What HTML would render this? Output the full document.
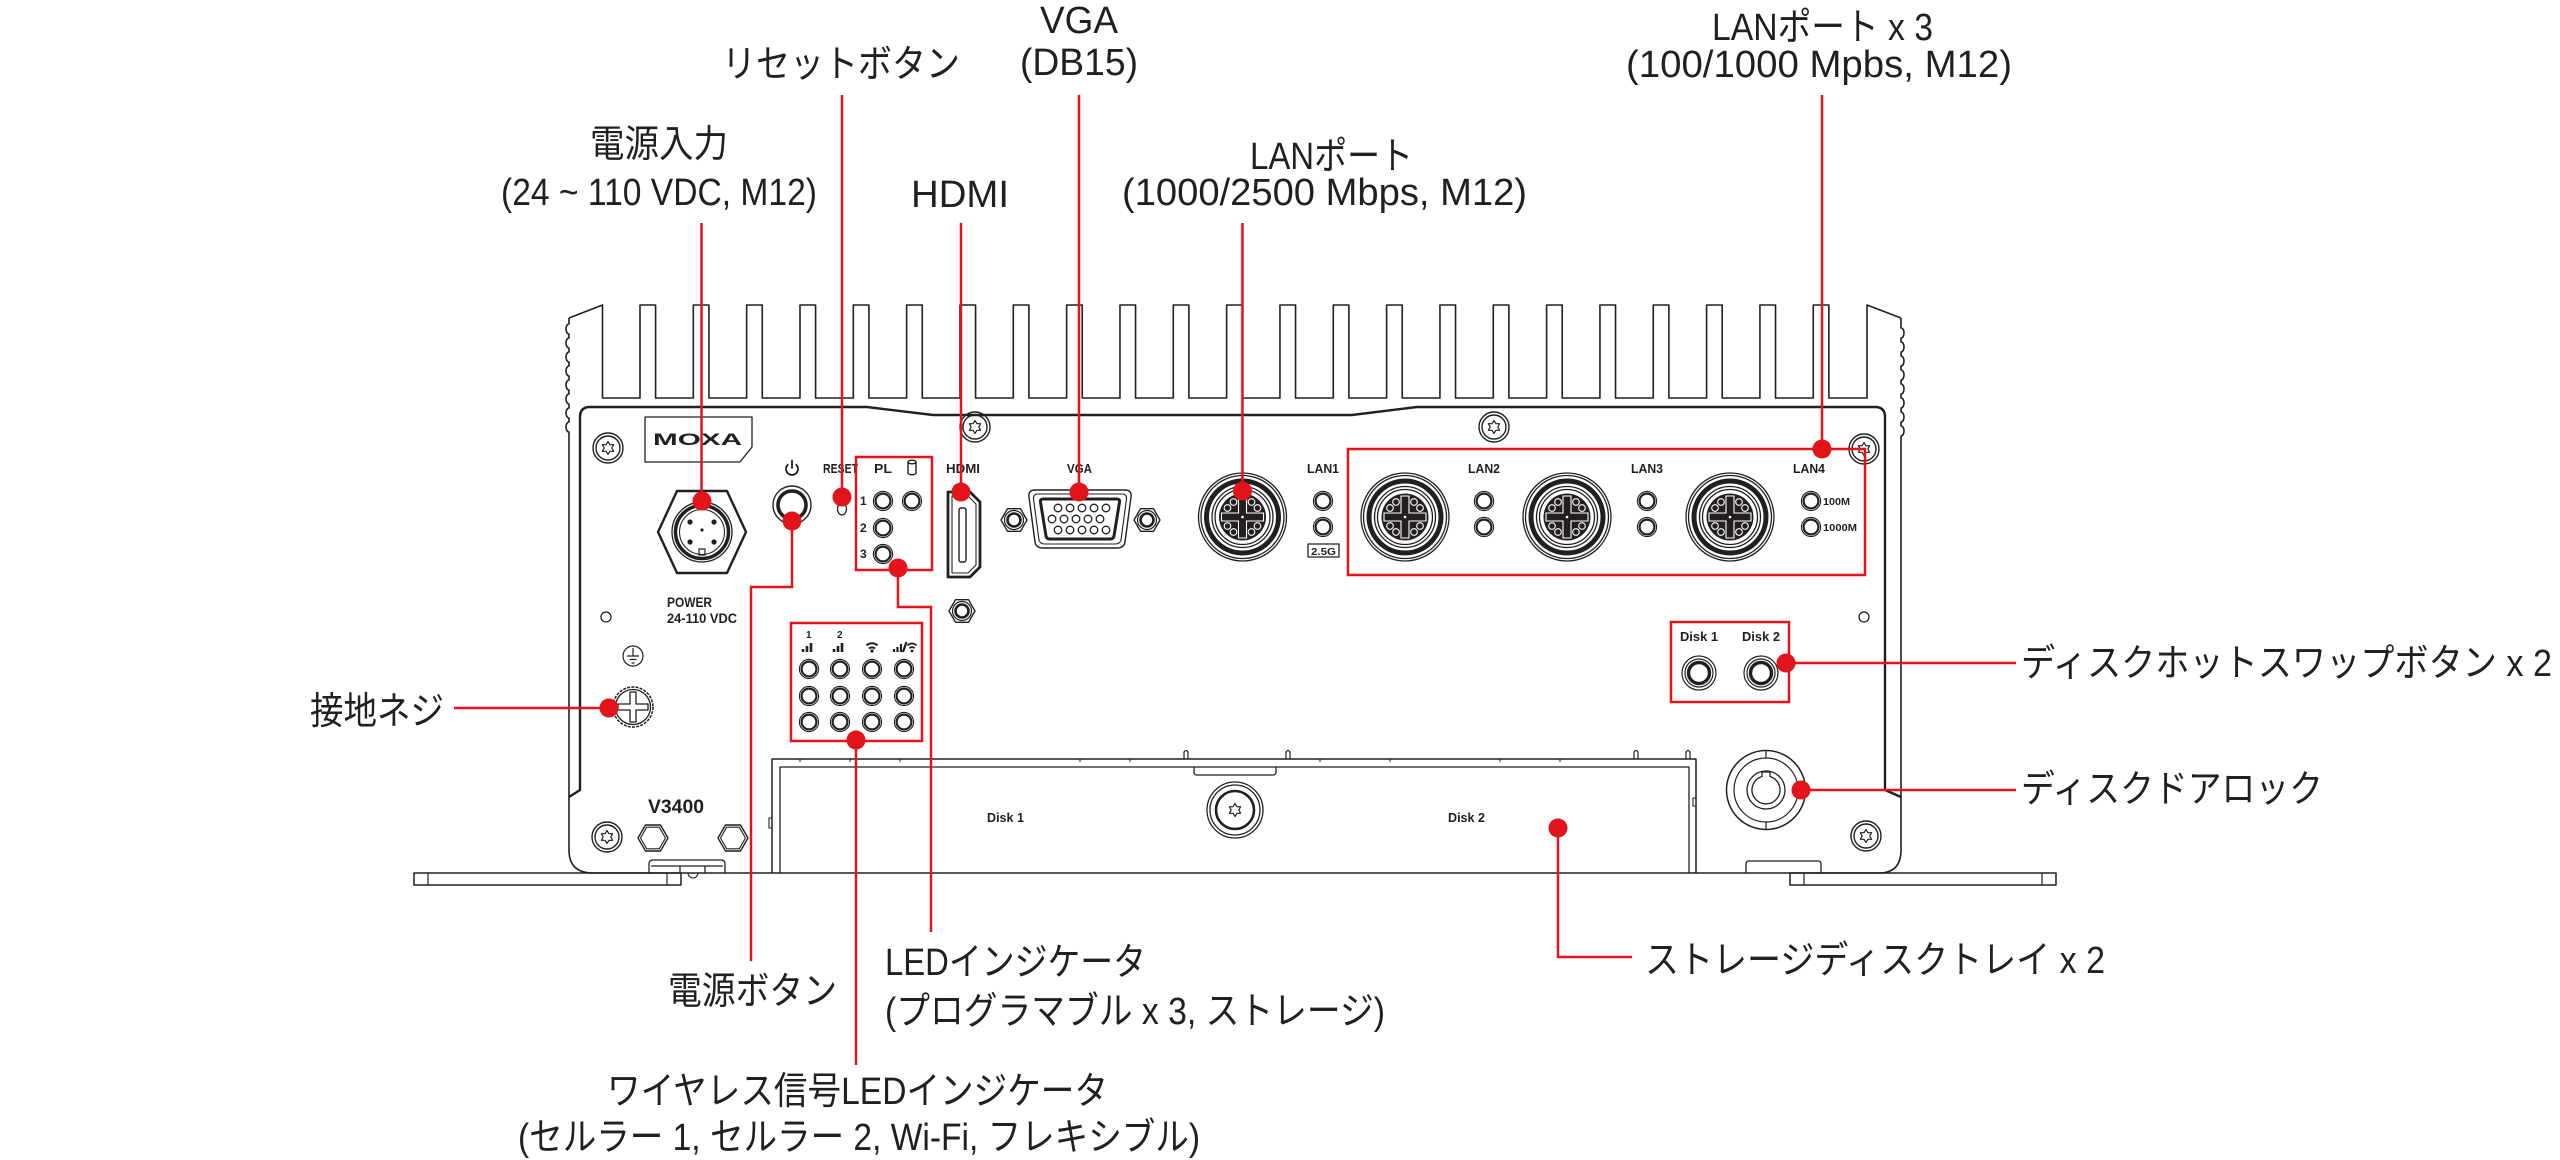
<!DOCTYPE html>
<html><head><meta charset="utf-8">
<style>html,body{margin:0;padding:0;background:#fff;}svg{display:block}</style>
</head><body>
<svg width="2560" height="1160" viewBox="0 0 2560 1160" xmlns="http://www.w3.org/2000/svg">
<defs>
<g id="torx" fill="none" stroke="#231f20">
<circle r="15" stroke-width="1.4"/><circle r="12" stroke-width="1.4"/>
<polygon stroke-width="1.2" stroke-linejoin="round" points="0,-6.5 1.9,-3.29 5.63,-3.25 3.8,0 5.63,3.25 1.9,3.29 0,6.5 -1.9,3.29 -5.63,3.25 -3.8,0 -5.63,-3.25 -1.9,-3.29"/>
</g>
<g id="led" fill="none" stroke="#231f20">
<circle r="9.6" stroke-width="1.1"/><circle r="7.4" stroke-width="2.2"/>
</g>
<g id="nut" fill="none" stroke="#231f20">
<polygon stroke-width="1.4" stroke-linejoin="round" points="13,0 6.5,11.3 -6.5,11.3 -13,0 -6.5,-11.3 6.5,-11.3"/>
<circle r="9.5" stroke-width="1.2"/><circle r="6.5" stroke-width="2.6"/>
</g>
<g id="nutv" fill="none" stroke="#231f20">
<polygon stroke-width="1.4" stroke-linejoin="round" points="15,0 7.5,13 -7.5,13 -15,0 -7.5,-13 7.5,-13"/>
<polygon stroke-width="1.1" stroke-linejoin="round" points="12.5,0 6.25,10.8 -6.25,10.8 -12.5,0 -6.25,-10.8 6.25,-10.8"/>
</g>
<g id="lan">
<circle r="44" fill="none" stroke="#231f20" stroke-width="1.3"/>
<circle r="41.5" fill="none" stroke="#231f20" stroke-width="1.3"/>
<circle r="36" fill="none" stroke="#231f20" stroke-width="5"/>
<circle r="30.5" fill="none" stroke="#231f20" stroke-width="1.3"/>
<circle r="27.5" fill="none" stroke="#231f20" stroke-width="1.3"/>
<circle r="23.5" fill="#231f20"/>
<path d="M-4 -21 V-4 H-21 V4 H-4 V21 H4 V4 H21 V-4 H4 V-21 Z" fill="none" stroke="#fff" stroke-width="1.1"/>
<g fill="#231f20" stroke="#fff" stroke-width="1.1">
<circle cx="-9" cy="-15" r="3.3"/><circle cx="9" cy="-15" r="3.3"/><circle cx="-15" cy="-9" r="3.3"/><circle cx="15" cy="-9" r="3.3"/>
<circle cx="-9" cy="15" r="3.3"/><circle cx="9" cy="15" r="3.3"/><circle cx="-15" cy="9" r="3.3"/><circle cx="15" cy="9" r="3.3"/>
</g>
<circle r="1.3" fill="#fff"/>
</g>
</defs>

<g fill="none" stroke="#231f20" stroke-width="1.6" stroke-linejoin="round">
<path d="M569 318 L602.5 305 V398 H640 V305h15.6V398h37.73V305h15.6V398h37.73V305h15.6V398h37.73V305h15.6V398h37.73V305h15.6V398h37.73V305h15.6V398h37.73V305h15.6V398h37.73V305h15.6V398h37.73V305h15.6V398h37.73V305h15.6V398h37.73V305h15.6V398h37.73V305h15.6V398h37.73V305h15.6V398h37.73V305h15.6V398h37.73V305h15.6V398h37.73V305h15.6V398h37.73V305h15.6V398h37.73V305h15.6V398h37.73V305h15.6V398h37.73V305h15.6V398h37.73V305h15.6V398h37.73V305h15.6V398h37.73V305h15.6V398H1867 V305 L1901 318"/>
<path d="M569 318 V324 a3 5 0 0 0 0 10 v4 a3 5 0 0 0 0 10 v4 a3 5 0 0 0 0 10 v4 a3 5 0 0 0 0 10 v4 a3 5 0 0 0 0 10 v4 a3 5 0 0 0 0 10 v4 a3 5 0 0 0 0 10 v4 a3 5 0 0 0 0 10 V850 Q569 873 593 873 H1879 Q1901 873 1901 850 V436 a3 5 0 0 0 0 -10 v-4 a3 5 0 0 0 0 -10 v-4 a3 5 0 0 0 0 -10 v-4 a3 5 0 0 0 0 -10 v-4 a3 5 0 0 0 0 -10 v-4 a3 5 0 0 0 0 -10 v-4 a3 5 0 0 0 0 -10 v-4 a3 5 0 0 0 0 -10 V318"/>
<path d="M569 797 L580 790 V417 Q580 407 590 407 H867 L933 415 H1352 L1417 407 H1875 Q1885 407 1885 417 V790 L1901 797" stroke-width="2.4"/>
<path d="M645 417 H752 V447 L740 462 H645 Z" stroke-width="1.3"/>
<path d="M658 532 L677 491 H727 L746 532 L727 573 H677 Z" stroke-width="2.4"/>
<circle cx="702" cy="532" r="30" stroke-width="1.3"/>
<circle cx="702" cy="532" r="26.5" stroke-width="3.5"/>
<circle cx="702" cy="532" r="22.5" stroke-width="1"/>
<rect x="699" y="549" width="6" height="6" stroke-width="1.2"/>
<circle cx="792" cy="505" r="19" stroke-width="1.4"/>
<circle cx="792" cy="505" r="14" stroke-width="3.6"/>
<path d="M787.76 464.76 A6 6 0 1 0 796.24 464.76 M792 460.5 V468" stroke-width="1.8" stroke-linecap="round"/>
<path d="M908 462 v11 a4 1.8 0 0 0 8 0 v-11" stroke-width="1.4"/>
<ellipse cx="912" cy="462" rx="4" ry="1.8" stroke-width="1.4"/>
<ellipse cx="842" cy="509" rx="4.5" ry="6" stroke-width="1.3"/>
<path d="M948 492 H970 L980 502 V567 L970 577 H948 Z" stroke-width="2.8"/>
<path d="M952 496 H968 L976 504 V565 L968 573 H952 Z" stroke-width="1.1"/>
<rect x="959" y="508" width="7" height="54" rx="2" stroke-width="1.4"/>
<path d="M1035 490 H1125 Q1132 490 1131 497 L1125 542 Q1124 548 1117 548 H1043 Q1036 548 1035 542 L1029 497 Q1028 490 1035 490 Z" stroke-width="1.4"/>
<path d="M1038 494 H1122 Q1127 494 1126.5 499 L1121 540 Q1120 544 1115 544 H1045 Q1040 544 1039 540 L1033.5 499 Q1033 494 1038 494 Z" stroke-width="1.1"/>
<path d="M1043 499 H1117 Q1120 499 1119.5 502 L1114 536 Q1113.5 539 1110 539 H1050 Q1046.5 539 1046 536 L1040.5 502 Q1040 499 1043 499 Z" stroke-width="3"/>
<g stroke-width="1.3">
<circle cx="1058" cy="508" r="3.8"/><circle cx="1070" cy="508" r="3.8"/><circle cx="1082" cy="508" r="3.8"/><circle cx="1094" cy="508" r="3.8"/><circle cx="1106" cy="508" r="3.8"/>
<circle cx="1052" cy="519" r="3.8"/><circle cx="1064" cy="519" r="3.8"/><circle cx="1076" cy="519" r="3.8"/><circle cx="1088" cy="519" r="3.8"/><circle cx="1100" cy="519" r="3.8"/>
<circle cx="1058" cy="530" r="3.8"/><circle cx="1070" cy="530" r="3.8"/><circle cx="1082" cy="530" r="3.8"/><circle cx="1094" cy="530" r="3.8"/><circle cx="1106" cy="530" r="3.8"/>
</g>
<rect x="1308" y="544" width="31" height="13" stroke-width="1.3"/>
<circle cx="606" cy="617" r="5" stroke-width="1.3"/>
<circle cx="1864" cy="617" r="5" stroke-width="1.3"/>
<circle cx="633" cy="656" r="10" stroke-width="1.2"/>
<path d="M633 648 V656 M627 656 H639 M629.5 659.5 H636.5 M631.5 663 H634.5" stroke-width="1.2"/>
<circle cx="633" cy="707" r="20" stroke-width="1.5" stroke-dasharray="3 1.2"/>
<circle cx="633" cy="707" r="17.5" stroke-width="1.3"/>
<path d="M630 692 H636 V704 H648 V710 H636 V722 H630 V710 H618 V704 H630 Z" stroke-width="1.3"/>
<circle cx="1699" cy="673" r="17" stroke-width="1.2"/><circle cx="1699" cy="673" r="14" stroke-width="1.2"/><circle cx="1699" cy="673" r="10.5" stroke-width="3.4"/>
<circle cx="1761" cy="673" r="17" stroke-width="1.2"/><circle cx="1761" cy="673" r="14" stroke-width="1.2"/><circle cx="1761" cy="673" r="10.5" stroke-width="3.4"/>
<path d="M772 873 V759 H1696 V873" stroke-width="1.5"/>
<path d="M780 873 V767 H1689 V873" stroke-width="1.3"/>
<path d="M772 818 h-3 v10 h3 M1696 798 h-3 v8 h3" stroke-width="1.1"/>
<path d="M1184 759 V752 Q1186 749 1188 752 V759 M1286 759 V752 Q1288 749 1290 752 V759 M1634 759 V752 Q1636 749 1638 752 V759 M1686 759 V752 Q1688 749 1690 752 V759" stroke-width="1.2"/>
<path d="M1194 767 V772 Q1194 775 1197 775 H1273 Q1276 775 1276 772 V767" stroke-width="1.3"/>
<path d="M800 759 v3 M850 759 v3 M900 759 v3 M1080 759 v3 M1130 759 v3 M1320 759 v3 M1390 759 v3 M1500 759 v3 M1560 759 v3" stroke-width="1"/>
<circle cx="1235" cy="810" r="28" stroke-width="1.3"/>
<circle cx="1235" cy="810" r="25" stroke-width="1.3"/>
<circle cx="1235" cy="810" r="19" stroke-width="2.6"/>
<circle cx="1766" cy="790" r="39.5" stroke-width="1.5"/>
<circle cx="1766" cy="790" r="32" stroke-width="1.2"/>
<circle cx="1766" cy="790" r="19" stroke-width="1.3"/>
<path d="M1762 776.5 A14 14 0 1 0 1770 776.5 V772 H1762 Z" stroke-width="1.3"/>
<path d="M1766 750.5 V758 M1766 822 V829.5" stroke-width="1.2"/>
<path d="M649 873 V864 Q649 860 653 860 H721 Q725 860 725 864 V873 M651 866 H723 M680 866 V873 M705 866 V873" stroke-width="1.3"/>
<path d="M1746 873 V864 Q1746 861 1749 861 H1818 Q1821 861 1821 864 V873" stroke-width="1.3"/>
<rect x="414" y="873" width="267" height="12" stroke-width="1.5"/>
<path d="M428 873 V885 M667 873 V885" stroke-width="1.2"/>
<rect x="1790" y="873" width="266" height="12" stroke-width="1.5"/>
<path d="M1804 873 V885 M2042 873 V885" stroke-width="1.2"/>
<path d="M688 873 A5 5 0 0 0 698 873" stroke-width="1.1"/>
</g>

<use href="#torx" x="608" y="448"/>
<use href="#torx" x="975" y="427"/>
<use href="#torx" x="1494" y="427"/>
<use href="#torx" x="1864" y="449"/>
<use href="#torx" x="607" y="837"/>
<use href="#torx" x="1866" y="836"/>
<g transform="translate(1235 810)"><polygon fill="none" stroke="#231f20" stroke-width="1.2" stroke-linejoin="round" points="0,-6.5 1.9,-3.29 5.63,-3.25 3.8,0 5.63,3.25 1.9,3.29 0,6.5 -1.9,3.29 -5.63,3.25 -3.8,0 -5.63,-3.25 -1.9,-3.29"/></g>
<use href="#nut" x="1014" y="520"/>
<use href="#nut" x="1147" y="520"/>
<use href="#nut" x="962" y="611"/>
<use href="#nutv" x="653" y="838"/>
<use href="#nutv" x="733" y="838"/>
<g fill="#231f20">
<circle cx="690" cy="522" r="2.6"/><circle cx="714" cy="522" r="2.6"/><circle cx="690" cy="542" r="2.6"/><circle cx="714" cy="542" r="2.6"/><circle cx="702" cy="530" r="1.6"/>
</g>
<use href="#lan" x="1242.5" y="517"/>
<use href="#lan" x="1405" y="517"/>
<use href="#lan" x="1567" y="517"/>
<use href="#lan" x="1730" y="517"/>
<use href="#led" x="883" y="501"/><use href="#led" x="912" y="501"/><use href="#led" x="883" y="528"/><use href="#led" x="883" y="554"/>
<use href="#led" x="1323" y="501"/><use href="#led" x="1323" y="527"/>
<use href="#led" x="1484" y="501"/><use href="#led" x="1484" y="527"/>
<use href="#led" x="1647" y="501"/><use href="#led" x="1647" y="527"/>
<use href="#led" x="1811" y="501"/><use href="#led" x="1811" y="527"/>
<use href="#led" x="809" y="669"/><use href="#led" x="840" y="669"/><use href="#led" x="872" y="669"/><use href="#led" x="904" y="669"/>
<use href="#led" x="809" y="696"/><use href="#led" x="840" y="696"/><use href="#led" x="872" y="696"/><use href="#led" x="904" y="696"/>
<use href="#led" x="809" y="722"/><use href="#led" x="840" y="722"/><use href="#led" x="872" y="722"/><use href="#led" x="904" y="722"/>
<g fill="none" stroke="#231f20">
<path d="M803 652 v-3 M807 652 v-6 M811 652 v-9" stroke-width="2.6"/>
<path d="M834 652 v-3 M838 652 v-6 M842 652 v-9" stroke-width="2.6"/>
<path d="M866.5 645.5 A8 8 0 0 1 877.5 645.5 M869 648.5 A4.5 4.5 0 0 1 875 648.5" stroke-width="2"/>
<path d="M894 652 v-3 M897.5 652 v-5 M901 652 v-8 M903 652 L906.5 642" stroke-width="2.2"/>
<path d="M907.5 645.5 A6 6 0 0 1 916.5 645.5 M909.5 648.3 A3.2 3.2 0 0 1 914.5 648.3" stroke-width="1.8"/>
</g>
<circle cx="872" cy="651" r="1.6" fill="#231f20"/>
<circle cx="912" cy="651" r="1.4" fill="#231f20"/>

<g font-family="'Liberation Sans', sans-serif" font-weight="bold" fill="#231f20">
<text x="653" y="445" font-size="17" textLength="89" lengthAdjust="spacingAndGlyphs">MOXA</text>
<text x="823" y="473" font-size="13" textLength="35" lengthAdjust="spacingAndGlyphs">RESET</text>
<text x="874" y="473" font-size="13" textLength="18" lengthAdjust="spacingAndGlyphs">PL</text>
<text x="946" y="473" font-size="13" textLength="34" lengthAdjust="spacingAndGlyphs">HDMI</text>
<text x="1067" y="473" font-size="13" textLength="25" lengthAdjust="spacingAndGlyphs">VGA</text>
<text x="1307" y="473" font-size="13" textLength="32" lengthAdjust="spacingAndGlyphs">LAN1</text>
<text x="1468" y="473" font-size="13" textLength="32" lengthAdjust="spacingAndGlyphs">LAN2</text>
<text x="1631" y="473" font-size="13" textLength="32" lengthAdjust="spacingAndGlyphs">LAN3</text>
<text x="1793" y="473" font-size="13" textLength="32" lengthAdjust="spacingAndGlyphs">LAN4</text>
<text x="1823" y="505" font-size="10.5" textLength="27" lengthAdjust="spacingAndGlyphs">100M</text>
<text x="1823" y="531" font-size="10.5" textLength="34" lengthAdjust="spacingAndGlyphs">1000M</text>
<text x="1311" y="555" font-size="10.5" textLength="25" lengthAdjust="spacingAndGlyphs">2.5G</text>
<text x="860" y="505" font-size="12">1</text>
<text x="860" y="532" font-size="12">2</text>
<text x="860" y="558" font-size="12">3</text>
<text x="806" y="638" font-size="10">1</text>
<text x="837" y="638" font-size="10">2</text>
<text x="667" y="607" font-size="13.5" textLength="45" lengthAdjust="spacingAndGlyphs">POWER</text>
<text x="667" y="623" font-size="13.5" textLength="70" lengthAdjust="spacingAndGlyphs">24-110 VDC</text>
<text x="648" y="813" font-size="19" textLength="56" lengthAdjust="spacingAndGlyphs">V3400</text>
<text x="1680" y="641" font-size="13" textLength="38" lengthAdjust="spacingAndGlyphs">Disk 1</text>
<text x="1742" y="641" font-size="13" textLength="38" lengthAdjust="spacingAndGlyphs">Disk 2</text>
<text x="987" y="822" font-size="13" textLength="37" lengthAdjust="spacingAndGlyphs">Disk 1</text>
<text x="1448" y="822" font-size="13" textLength="37" lengthAdjust="spacingAndGlyphs">Disk 2</text>
</g>

<g fill="none" stroke="#e3131b" stroke-width="2.5">
<rect x="856" y="457" width="76" height="113"/>
<rect x="791" y="623" width="131" height="118"/>
<rect x="1348" y="449" width="517" height="126"/>
<rect x="1671" y="622" width="118" height="80"/>
<path d="M701.5 223 V501 M842 95 V497 M961 223 V492 M1079 95 V492 M1242.5 223 V491 M1822 95 V449 M792 521 V587 H751 V961 M898 568 V607 H931 V932 M856 740 V1065 M609 708 H454 M1786 663 H2016 M1801 790 H2016 M1558 828 V957 H1632"/>
</g>
<g fill="#e3131b">
<circle cx="702" cy="501" r="9.5"/><circle cx="842" cy="497" r="9.5"/><circle cx="961" cy="492" r="9.5"/><circle cx="1079" cy="492" r="9.5"/>
<circle cx="1242.5" cy="491" r="9.5"/><circle cx="1822" cy="449" r="9.5"/><circle cx="792" cy="521" r="9.5"/><circle cx="898" cy="568" r="9.5"/>
<circle cx="856" cy="740" r="9.5"/><circle cx="609" cy="708" r="9.5"/><circle cx="1786" cy="663" r="9.5"/><circle cx="1801" cy="790" r="9.5"/><circle cx="1558" cy="828" r="9.5"/>
</g>

<g font-family="'Liberation Sans', 'Noto Sans CJK JP', sans-serif" font-size="38" fill="#231f20">
<text x="722" y="77" textLength="238" lengthAdjust="spacingAndGlyphs">リセットボタン</text>
<text x="1040" y="33" textLength="78" lengthAdjust="spacingAndGlyphs">VGA</text>
<text x="1020" y="75" textLength="118" lengthAdjust="spacingAndGlyphs">(DB15)</text>
<text x="590" y="157" textLength="138" lengthAdjust="spacingAndGlyphs">電源入力</text>
<text x="501" y="205" textLength="316" lengthAdjust="spacingAndGlyphs">(24 ~ 110 VDC, M12)</text>
<text x="911" y="207" textLength="98" lengthAdjust="spacingAndGlyphs">HDMI</text>
<text x="1250" y="169" textLength="163" lengthAdjust="spacingAndGlyphs">LANポート</text>
<text x="1122" y="205" textLength="405" lengthAdjust="spacingAndGlyphs">(1000/2500 Mbps, M12)</text>
<text x="1712" y="40" textLength="221" lengthAdjust="spacingAndGlyphs">LANポート x 3</text>
<text x="1626" y="77" textLength="386" lengthAdjust="spacingAndGlyphs">(100/1000 Mpbs, M12)</text>
<text x="310" y="724" textLength="134" lengthAdjust="spacingAndGlyphs">接地ネジ</text>
<text x="2021" y="676" textLength="531" lengthAdjust="spacingAndGlyphs">ディスクホットスワップボタン x 2</text>
<text x="2021" y="802" textLength="302" lengthAdjust="spacingAndGlyphs">ディスクドアロック</text>
<text x="1645" y="973" textLength="460" lengthAdjust="spacingAndGlyphs">ストレージディスクトレイ x 2</text>
<text x="668" y="1004" textLength="169" lengthAdjust="spacingAndGlyphs">電源ボタン</text>
<text x="885" y="975" textLength="261" lengthAdjust="spacingAndGlyphs">LEDインジケータ</text>
<text x="885" y="1024" textLength="500" lengthAdjust="spacingAndGlyphs">(プログラマブル x 3, ストレージ)</text>
<text x="607" y="1104" textLength="501" lengthAdjust="spacingAndGlyphs">ワイヤレス信号LEDインジケータ</text>
<text x="518" y="1150" textLength="682" lengthAdjust="spacingAndGlyphs">(セルラー 1, セルラー 2, Wi-Fi, フレキシブル)</text>
</g>
</svg>
</body></html>
